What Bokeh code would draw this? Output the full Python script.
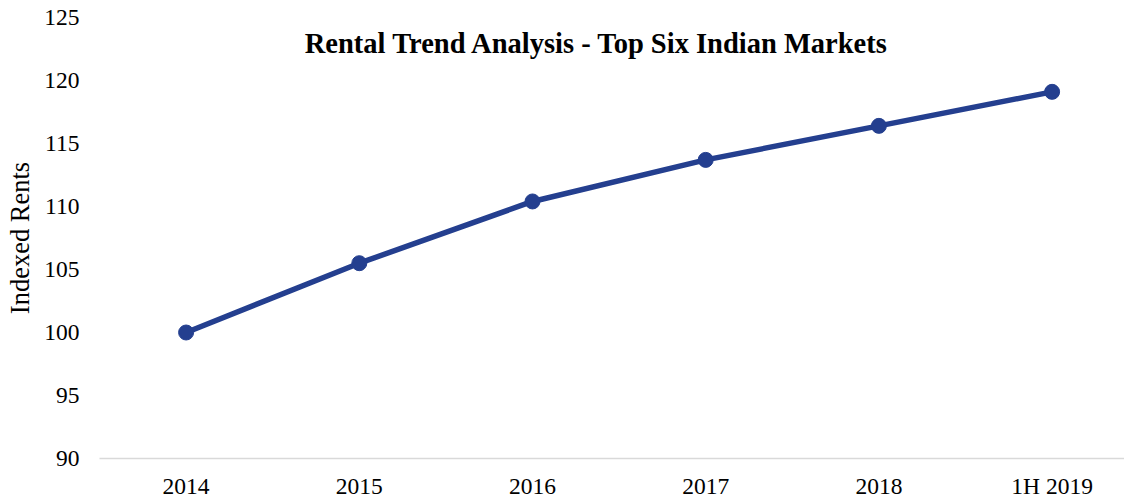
from bokeh.plotting import figure
from bokeh.models import Range1d, FixedTicker, Label, ColumnDataSource
from bokeh.embed import file_html
from bokeh.resources import INLINE

categories = ["2014", "2015", "2016", "2017", "2018", "1H 2019"]
rents = [100.0, 105.5, 110.4, 113.7, 116.4, 119.1]
y_ticks = [90, 95, 100, 105, 110, 115, 120, 125]

xs = list(range(len(categories)))
src = ColumnDataSource(dict(x=xs, y=rents))

FONT = "Liberation Serif"
BLUE = "#243F8F"

p = figure(width=1124, height=501, output_backend="svg", toolbar_location=None,
           x_range=Range1d(-0.5, 5.418), y_range=Range1d(90, 125),
           min_border_left=99, min_border_right=0, min_border_top=17, min_border_bottom=40)
p.outline_line_color = None
p.xgrid.visible = False
p.ygrid.visible = False

p.line("x", "y", source=src, line_color=BLUE, line_width=5.5)
p.scatter("x", "y", source=src, size=15, fill_color=BLUE, line_color=BLUE)

p.xaxis.ticker = FixedTicker(ticks=xs)
p.xaxis.major_label_overrides = {i: c for i, c in enumerate(categories)}
p.xaxis.axis_line_color = "#D9D9D9"
p.xaxis.axis_line_width = 1.5
p.xaxis.major_tick_line_color = None
p.xaxis.minor_tick_line_color = None
p.xaxis.major_tick_out = 0
p.xaxis.major_label_text_font = FONT
p.xaxis.major_label_text_font_size = "23.5px"
p.xaxis.major_label_text_color = "#000000"
p.xaxis.major_label_standoff = 14

p.yaxis.ticker = FixedTicker(ticks=y_ticks)
p.yaxis.axis_line_color = None
p.yaxis.major_tick_line_color = None
p.yaxis.minor_tick_line_color = None
p.yaxis.major_tick_out = 0
p.yaxis.major_label_text_font = FONT
p.yaxis.major_label_text_font_size = "23.5px"
p.yaxis.major_label_text_color = "#000000"
p.yaxis.major_label_standoff = 20
p.yaxis.axis_label = "Indexed Rents"
p.yaxis.axis_label_text_font = FONT
p.yaxis.axis_label_text_font_size = "26.5px"
p.yaxis.axis_label_text_font_style = "normal"
p.yaxis.axis_label_text_color = "#000000"
p.yaxis.axis_label_standoff = 6

title = Label(x=2.373, y=122.9,
              text="Rental Trend Analysis - Top Six Indian Markets",
              text_font=FONT, text_font_size="28.5px", text_font_style="bold",
              text_align="center", text_baseline="middle", text_color="#000000")
p.add_layout(title)

open("out.html", "w").write(file_html(p, INLINE))
